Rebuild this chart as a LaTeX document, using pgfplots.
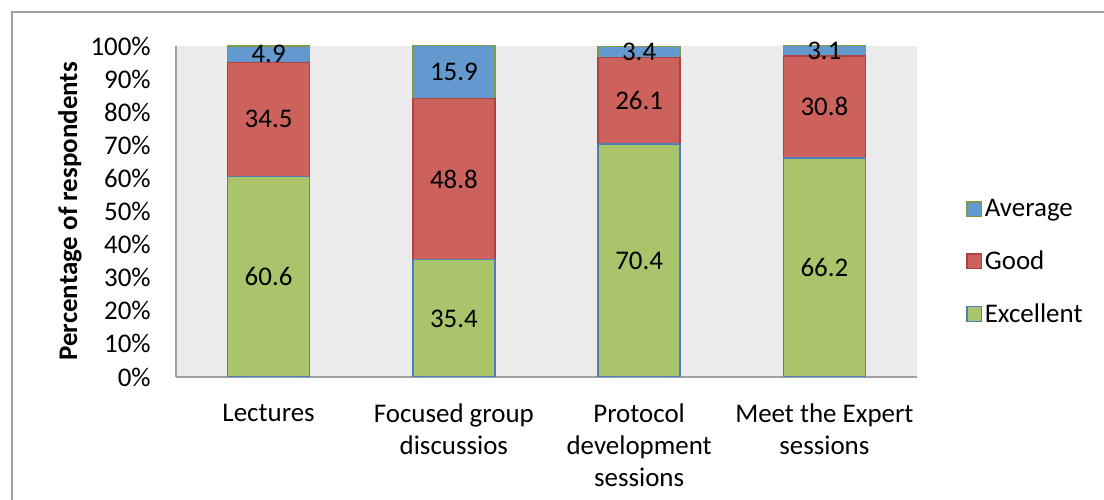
\documentclass[border=0pt]{standalone}
\usepackage{pgfplots}
\pgfplotsset{compat=1.18}
\usepackage{fontspec}
\setmainfont{Carlito}
\definecolor{cgreen}{HTML}{AAC46C}
\definecolor{cred}{HTML}{CD625D}
\definecolor{cblue}{HTML}{6399CE}
\definecolor{bgreen}{HTML}{7F9C44}
\definecolor{bred}{HTML}{A94440}
\definecolor{bblue}{HTML}{4F7FBB}
\definecolor{plotbg}{HTML}{EBEBEB}
\definecolor{framegray}{HTML}{A0A0A0}
\begin{document}
\begin{tikzpicture}[font=\fontsize{20.2}{24}\selectfont]
\path[use as bounding box] (0,0) rectangle (828pt,375pt);
\draw[framegray, line width=1.5pt] (9pt,-2pt) -- (9pt,366pt) -- (830pt,366pt);
\begin{axis}[
  at={(132pt,92.25pt)}, anchor=south west,
  scale only axis, width=555.75pt, height=248.62pt,
  ybar stacked, bar width=61.5pt,
  xmin=-0.5, xmax=3.5, ymin=0, ymax=100.15,
  xtick={0,1,2,3},
  xticklabels={Lectures,{Focused group\\discussios},{Protocol\\development\\sessions},{Meet the Expert\\sessions}},
  ytick={0,10,...,100},
  yticklabel={\pgfmathprintnumber{\tick}\%},
  /pgf/number format/assume math mode=true,
  yticklabel style={anchor=east, inner sep=0pt, xshift=-18.75pt},
  xticklabel style={align=center, anchor=north, inner sep=0pt, yshift=-20pt},
  major tick length=0pt,
  axis x line*=bottom, axis y line*=left,
  axis line style={draw=framegray, line width=1pt, -},
  axis background/.style={fill=plotbg},
  ylabel={\textbf{Percentage of respondents}},
  ylabel style={at={(axis description cs:-0.143,0.5)}, anchor=center},
  nodes near coords={\pgfmathprintnumber[fixed,fixed zerofill,precision=1]{\rawy}},
  visualization depends on={rawy \as \rawy},
  every node near coord/.append style={anchor=center, text=black},
  legend style={at={(1.066,0.347)}, anchor=west, draw=none, fill=none, row sep=20pt, legend cell align=left, inner sep=0pt},
  legend image code/.code={\draw[#1] (0pt,-5.5pt) rectangle (11pt,5.5pt);},
  reverse legend,
]
\addplot[fill=cgreen, draw=bblue, line width=1pt] coordinates {(0,60.6) (1,35.4) (2,70.4) (3,66.2)};
\addplot[fill=cred, draw=bred, line width=1pt] coordinates {(0,34.5) (1,48.8) (2,26.1) (3,30.8)};
\addplot[fill=cblue, draw=bgreen, line width=1pt] coordinates {(0,4.9) (1,15.9) (2,3.4) (3,3.1)};
\legend{Excellent, Good, Average}
\end{axis}
\end{tikzpicture}
\end{document}
